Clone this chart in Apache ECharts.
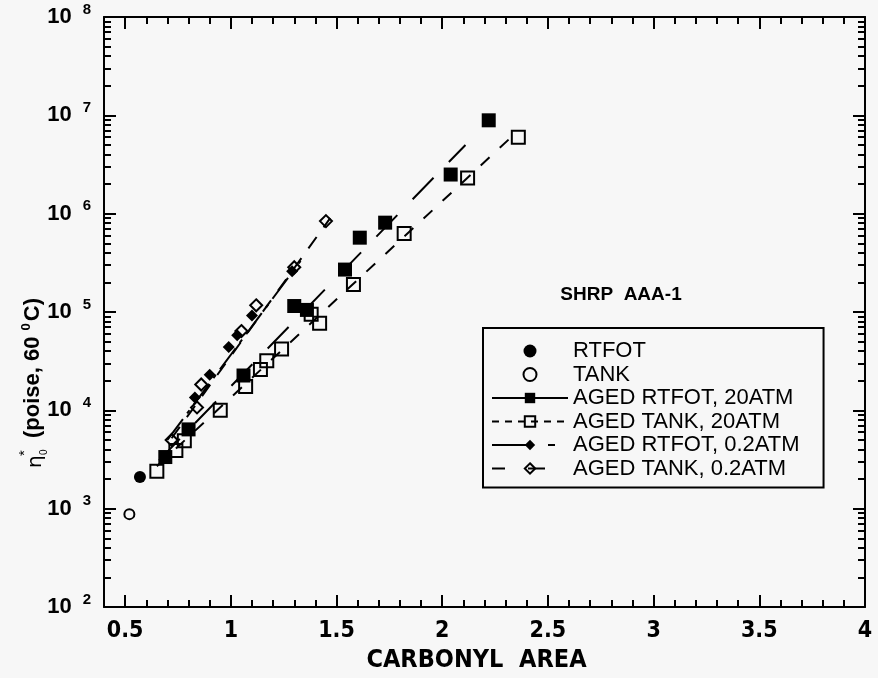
<!DOCTYPE html>
<html>
<head>
<meta charset="utf-8">
<script src="https://cdn.jsdelivr.net/npm/echarts@6/dist/echarts.min.js"></script>
<style>
  html, body { margin: 0; padding: 0; background: #f7f7f7; }
  #chart { width: 878px; height: 678px; }
</style>
</head>
<body>
<div id="chart"></div>
<script>
// Zero-shear viscosity at 60 C against carbonyl area, SHRP AAA-1

const rtfot = [[0.57, 2100]];
const tank = [[0.52, 880]];
const agedRtfot20 = [[0.69, 3350], [0.80, 6400], [1.06, 22600], [1.30, 115000], [1.36, 105000],
  [1.54, 270000], [1.61, 570000], [1.73, 810000], [2.04, 2500000], [2.22, 8900000]];
const agedTank20 = [[0.65, 2400], [0.74, 3900], [0.78, 4900], [0.95, 10000], [1.07, 17500],
  [1.14, 26000], [1.17, 32000], [1.24, 42000], [1.38, 95000], [1.42, 77000], [1.58, 190000],
  [1.82, 630000], [2.12, 2300000], [2.36, 6000000]];
const agedRtfot02 = [[0.83, 13500], [0.90, 23000], [0.99, 44000], [1.03, 58000], [1.10, 92000], [1.29, 260000]];
const agedTank02 = [[0.72, 5000], [0.84, 10700], [0.86, 18300], [1.05, 64000], [1.12, 117000], [1.30, 285000], [1.45, 840000]];

// regression lines, given by their end points
const fitRtfot20 = [[0.66, 3100], [2.11, 5000000]];
const fitTank20 = [[0.65, 2700], [2.33, 6100000]];
const fitRtfot02 = [[0.70, 5000], [1.33, 330000]];
const fitTank02 = [[0.72, 5200], [1.47, 900000]];

const xTicks = [0.5, 1, 1.5, 2, 2.5, 3, 3.5, 4];
const yDecades = [1e2, 1e3, 1e4, 1e5, 1e6, 1e7, 1e8];

const names = ['RTFOT', 'TANK', 'AGED RTFOT, 20ATM', 'AGED TANK, 20ATM', 'AGED RTFOT, 0.2ATM', 'AGED TANK, 0.2ATM'];

// minor ticks of the log axis at 2..9 x 10^n
const yMinor = [];
for (let i = 0; i < yDecades.length - 1; i++) {
  for (let k = 2; k <= 9; k++) yMinor.push(k * yDecades[i]);
}

const BLACK = '#000';
const narrow = "'Liberation Sans Narrow', 'DejaVu Sans Condensed', 'Liberation Sans', sans-serif";
const sans = "'Liberation Sans', Arial, sans-serif";

function xAxisDef(position, minor, labels) {
  const a = {
    type: 'value', position: position, min: 0.4, max: 4,
    splitLine: { show: false },
    axisLine: { show: !minor, onZero: false, lineStyle: { color: BLACK, width: 2 } },
    axisTick: { show: true, inside: true, length: minor ? 7 : 12, lineStyle: { color: BLACK, width: 2 } },
    axisLabel: { show: false }
  };
  if (minor) {
    a.interval = 0.1;
  } else {
    a.axisTick.customValues = xTicks;
    a.axisLabel = {
      show: labels, customValues: xTicks, margin: 13, color: BLACK,
      fontFamily: narrow, fontWeight: 'bold', fontSize: 23
    };
  }
  if (labels) {
    a.name = 'CARBONYL  AREA';
    a.nameLocation = 'middle';
    a.nameGap = 41;
    a.nameTextStyle = { fontFamily: narrow, fontWeight: 'bold', fontSize: 25, color: BLACK, padding: [0, 16, 0, 0] };
  }
  return a;
}

function yAxisDef(position, minor, labels) {
  const a = {
    type: 'log', logBase: 10, position: position, min: 1e2, max: 1e8,
    splitLine: { show: false },
    minorTick: { show: false },
    axisLine: { show: !minor, onZero: false, lineStyle: { color: BLACK, width: 2 } },
    axisTick: { show: true, inside: true, length: minor ? 7 : 12, customValues: minor ? yMinor : yDecades,
      lineStyle: { color: BLACK, width: 2 } },
    axisLabel: { show: false }
  };
  if (labels) {
    a.axisLabel = {
      show: true, customValues: yDecades, margin: 13, color: BLACK,
      formatter: function (v) {
        return '{b|10}{e|' + Math.round(Math.log10(v)) + '}';
      },
      rich: {
        b: { fontFamily: sans, fontWeight: 'bold', fontSize: 22, color: BLACK },
        e: { fontFamily: sans, fontWeight: 'bold', fontSize: 15, color: BLACK, padding: [0, 0, 15, 11] }
      }
    };
  }
  return a;
}

const grid = { left: 104, right: 13, top: 17, bottom: 67 };

function fitSeries(name, data, symbol, filled, dash, size) {
  return {
    name: name, type: 'line', data: data, xAxisIndex: 0, yAxisIndex: 0,
    symbol: symbol, symbolSize: size, showSymbol: false, silent: true, z: 2,
    lineStyle: { color: BLACK, width: 2, type: dash },
    itemStyle: filled ? { color: BLACK, opacity: 1 }
      : { color: 'transparent', borderColor: BLACK, borderWidth: 2, opacity: 1 }
  };
}

function pointSeries(name, data, symbol, filled, size) {
  return {
    name: name, type: 'scatter', data: data, xAxisIndex: 0, yAxisIndex: 0,
    symbol: symbol, symbolSize: size, z: 4,
    itemStyle: filled ? { color: BLACK, opacity: 1 }
      : { color: 'transparent', borderColor: BLACK, borderWidth: 2, opacity: 1 }
  };
}

// legend keys: the line pattern drawn around each marker
const legendLines = [null, null, 'solid', [7, 6], [38, 18, 7, 100], [13, 23, 17, 100]];

const option = {
  backgroundColor: '#f7f7f7',
  animation: false,
  grid: grid,
  xAxis: [
    xAxisDef('bottom', false, true),
    xAxisDef('bottom', true, false),
    xAxisDef('top', false, false),
    xAxisDef('top', true, false)
  ],
  yAxis: [
    yAxisDef('left', false, true),
    yAxisDef('left', true, false),
    yAxisDef('right', false, false),
    yAxisDef('right', true, false)
  ],
  legend: {
    orient: 'vertical', left: 483, top: 328,
    data: names.map(function (n, i) {
      const item = { name: n };
      if (legendLines[i]) item.lineStyle = { type: legendLines[i], width: 2, color: BLACK };
      return item;
    }),
    selectedMode: false,
    itemWidth: 76, itemHeight: 13, itemGap: 1.5,
    padding: [12, 24, 8, 8],
    borderColor: BLACK, borderWidth: 2, borderRadius: 0,
    textStyle: { fontFamily: sans, fontSize: 22, color: BLACK, lineHeight: 22 }
  },
  series: [
    fitSeries(names[2], fitRtfot20, 'rect', true, [30, 22], 12),
    fitSeries(names[3], fitTank20, 'rect', false, [12, 14], 12),
    fitSeries(names[4], fitRtfot02, 'diamond', true, [26, 7, 4, 7], 12),
    fitSeries(names[5], fitTank02, 'diamond', false, [14, 12], 12),
    pointSeries(names[0], rtfot, 'circle', true, 12),
    pointSeries(names[1], tank, 'circle', false, 10),
    pointSeries(names[2], agedRtfot20, 'rect', true, 14),
    pointSeries(names[3], agedTank20, 'rect', false, 13),
    pointSeries(names[4], agedRtfot02, 'diamond', true, 12),
    pointSeries(names[5], agedTank02, 'diamond', false, 12)
  ],
  graphic: [
    {
      type: 'text', x: 621, y: 295,
      style: { text: 'SHRP  AAA-1', fontFamily: sans, fontWeight: 'bold', fontSize: 19, fill: BLACK,
        align: 'center', verticalAlign: 'middle', textAlign: 'center', textVerticalAlign: 'middle' }
    },
    {
      type: 'group', x: 42, y: 468, rotation: Math.PI / 2,
      children: [
        { type: 'text', x: 0, y: -6,
          style: { text: 'η', fontFamily: "'DejaVu Sans', sans-serif", fontSize: 20, fill: BLACK,
            align: 'left', verticalAlign: 'middle', textAlign: 'left', textVerticalAlign: 'middle' } },
        { type: 'text', x: 13, y: 2,
          style: { text: '0', fontFamily: sans, fontSize: 10, fill: BLACK,
            align: 'left', verticalAlign: 'middle', textAlign: 'left', textVerticalAlign: 'middle' } },
        { type: 'text', x: 12, y: -17,
          style: { text: '*', fontFamily: sans, fontSize: 15, fill: BLACK,
            align: 'left', verticalAlign: 'middle', textAlign: 'left', textVerticalAlign: 'middle' } },
        { type: 'text', x: 30, y: -9,
          style: {
            text: '{t|(poise, 60 }{s|0}{t|C)}',
            align: 'left', verticalAlign: 'middle', textAlign: 'left', textVerticalAlign: 'middle',
            rich: {
              t: { fontFamily: sans, fontWeight: 'bold', fontSize: 22, fill: BLACK },
              s: { fontFamily: sans, fontWeight: 'bold', fontSize: 13, fill: BLACK, padding: [0, 2, 14, 0] }
            }
          } }
      ]
    }
  ]
};

const chart = echarts.init(document.getElementById('chart'), null, { renderer: 'canvas' });
chart.setOption(option);
</script>
</body>
</html>
